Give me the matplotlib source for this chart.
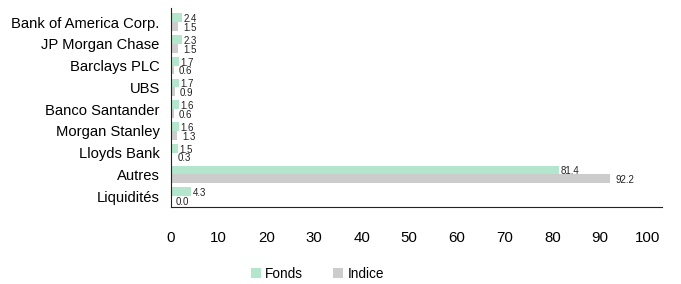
import matplotlib
matplotlib.use("Agg")
import matplotlib.pyplot as plt
import numpy as np

plt.rcParams['font.family'] = ['Liberation Sans', 'DejaVu Sans']

categories = ["Bank of America Corp.", "JP Morgan Chase", "Barclays PLC", "UBS",
              "Banco Santander", "Morgan Stanley", "Lloyds Bank", "Autres", "Liquidités"]
fonds = [2.4, 2.3, 1.7, 1.7, 1.6, 1.6, 1.5, 81.4, 4.3]
indice = [1.5, 1.5, 0.6, 0.9, 0.6, 1.3, 0.3, 92.2, 0.0]
xticks = [0, 10, 20, 30, 40, 50, 60, 70, 80, 90, 100]

green = "#b3e6cc"
grey = "#cccccc"

fig = plt.figure(figsize=(6.81, 2.84), dpi=100)
ax = fig.add_axes([0.251, 0.271, 0.721, 0.701])

y = np.arange(len(categories))
h = 0.4
b1 = ax.barh(y - h/2, fonds, height=h, color=green, label="Fonds")
b2 = ax.barh(y + h/2, indice, height=h, color=grey, label="Indice")

for yi, v in zip(y, fonds):
    ax.annotate(f"{v:.1f}", (v, yi - h/2), xytext=(1, -1), textcoords="offset points",
                fontsize=7, va="center", ha="left", color="#222222")
for yi, v in zip(y, indice):
    ax.annotate(f"{v:.1f}", (v, yi + h/2), xytext=(3.5, -1), textcoords="offset points",
                fontsize=7, va="center", ha="left", color="#222222")

ax.set_yticks(y)
ax.set_yticklabels(categories, fontsize=10.6)
ax.set_ylim(len(categories) - 0.5, -0.65)
ax.set_xlim(0, 103)
ax.set_xticks(xticks)
ax.set_xticklabels([str(t) for t in xticks], fontsize=10.8)
ax.tick_params(axis="x", length=0, pad=17.5)
ax.tick_params(axis="y", length=0, pad=8)
for s in ["top", "right"]:
    ax.spines[s].set_visible(False)
ax.spines["left"].set_color("#222222")
ax.spines["bottom"].set_color("#222222")

fig.legend(handles=[b1, b2], labels=["Fonds", "Indice"], loc="center",
           bbox_to_anchor=(0.466, 0.035), ncol=2, frameon=False, fontsize=9.8,
           handlelength=0.75, handleheight=0.75, handletextpad=0.3, columnspacing=2.2)

fig.savefig("out.png", dpi=100)
